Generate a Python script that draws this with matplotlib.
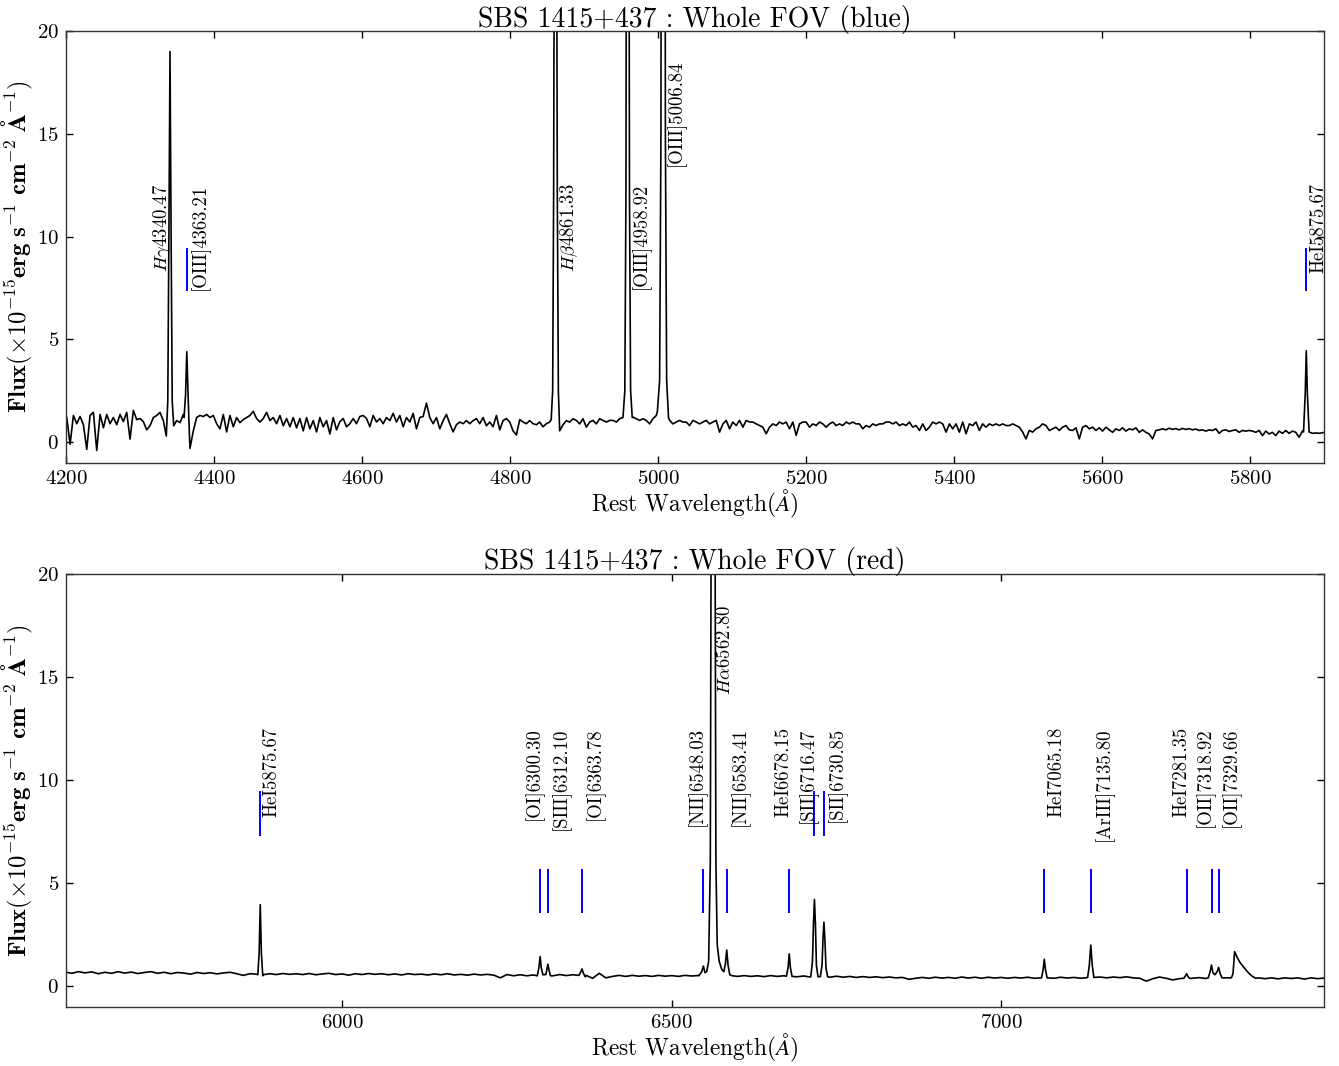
from __future__ import annotations

import matplotlib

matplotlib.use("Agg")
import matplotlib.pyplot as plt
import numpy as np

OUT = "out.png"
NO_MARK = np.nan

# ---- blue arm -------------------------------------------------------------
# continuum sampled on a regular 4.5 A grid starting at 4201 A
BLUE_START = 4201.0
BLUE_STEP = 4.5
BLUE_FLUX = [
    1.2, -0.1, 1.3, 0.9, 1.25, 0.85, -0.35, 1.3, 1.45, -0.4,
    1.35, 0.7, 1.35, 0.9, 1.2, 0.85, 1.35, 1.0, 1.45, 0.15,
    1.55, 1.1, 1.15, 1.0, 0.6, 0.8, 1.2, 1.3, 1.45, 1.05,
    0.4, 0.8, 0.6, 1.05, 0.95, 1.35, 1.2, -0.3, 0.55, 1.2,
    1.3, 1.25, 1.35, 1.2, 1.3, 0.9, 0.65, 1.35, 0.5, 1.3,
    0.75, 1.2, 0.95, 1.1, 1.2, 1.3, 1.5, 1.15, 0.98, 1.15,
    1.45, 1.05, 1.2, 0.9, 1.3, 0.8, 1.15, 0.75, 1.2, 0.7,
    1.15, 0.55, 1.2, 0.65, 1.05, 0.5, 1.2, 0.75, 1.05, 0.4,
    1.2, 0.6, 1.0, 1.15, 0.75, 0.9, 1.15, 0.9, 1.25, 1.3,
    1.15, 0.75, 1.3, 0.98, 1.15, 0.9, 1.2, 1.05, 1.4, 0.98,
    1.3, 0.75, 1.2, 0.98, 1.4, 0.65, 1.2, 1.25, 1.9, 1.2,
    0.9, 1.2, 0.65, 1.05, 1.35, 0.9, 0.5, 0.85, 0.98, 0.9,
    1.05, 0.9, 1.05, 1.15, 0.9, 1.2, 0.8, 0.98, 0.75, 1.3,
    0.6, 1.05, 1.15, 0.98, 0.55, 0.35, 1.1, 0.98, 0.9, 1.05,
    0.9, 0.85, 0.98, 0.75, 0.9, 0.98,
    1.2, 1.2, 0.6, 0.85, 1.05, 0.98, 1.14, 1.06, 0.89, 1.14,
    0.73, 0.98, 1.06, 0.89, 1.14, 1.06, 0.98, 1.06, 1.06, 0.98,
    1.14, 1.06, 1.2, 1.2, 1.22, 1.14, 1.06, 1.14, 1.06, 0.89,
    1.14, 1.3, 1.46, 1.5, 1.5, 1.06, 0.89, 0.98, 1.06, 0.98,
    0.98, 0.81, 1.06, 0.98, 0.89, 0.98, 1.06, 0.89, 0.98, 1.06,
    0.49, 0.89, 1.06, 0.65, 0.98, 0.81, 1.06, 0.73, 1.06, 0.98,
    0.98, 0.89, 0.81, 0.73, 0.41, 0.73, 0.89, 0.81, 0.98, 0.89,
    0.98, 0.65, 0.98, 0.33, 0.89, 0.98, 0.98, 0.73, 0.89, 0.81,
    0.98, 0.89, 0.73, 0.89, 0.98, 0.81, 0.89, 0.81, 0.98, 0.89,
    0.98, 0.89, 0.89, 0.65, 0.81, 0.73, 0.89, 0.81, 0.89, 0.89,
    0.98, 0.98, 0.89, 0.98, 0.81, 0.89, 0.81, 0.98, 0.73, 0.81,
    0.57, 0.89, 0.57, 0.73, 0.98, 0.89, 0.98, 0.89, 0.49, 0.89,
    0.65, 0.89, 0.49, 0.98, 0.41, 0.89, 0.81, 0.98, 0.57, 0.89,
    0.73, 0.89, 0.81, 0.89, 0.81, 0.89, 0.81, 0.81, 0.89, 0.81,
    0.73, 0.49, 0.16, 0.57, 0.49, 0.65, 0.73, 0.89, 0.81, 0.57,
    0.65, 0.73, 0.57, 0.73, 0.81, 0.6, 0.57, 0.7, 0.16, 0.73,
    0.81, 0.65, 0.73, 0.57, 0.7, 0.54, 0.73, 0.6, 0.48, 0.65,
    0.57, 0.7, 0.54, 0.65, 0.6, 0.7, 0.48, 0.6, 0.48, 0.4,
    0.16, 0.57, 0.6, 0.65, 0.6, 0.68, 0.62, 0.66, 0.6, 0.67,
    0.62, 0.66, 0.6, 0.64, 0.57, 0.6, 0.54, 0.6, 0.57, 0.65,
    0.43, 0.57, 0.6, 0.52, 0.57, 0.6, 0.48, 0.57, 0.54, 0.57,
    0.54, 0.48, 0.57, 0.32, 0.54, 0.4, 0.48, 0.32, 0.54, 0.43,
    0.57, 0.43, 0.54, 0.48, 0.24, 0.54, 0.54, 0.54, 0.43, 0.45,
    0.43, 0.46, 0.48,
]
# emission-line profiles, sampled finer than the continuum grid
BLUE_PROFILE_WAVE = [
    [4335.5, 4337.5, 4339.0, 4340.5, 4342.0, 4343.5, 4345.5],
    [4359.5, 4361.5, 4363.2, 4365.0, 4366.5],
    [4855.5, 4857.5, 4858.8, 4859.6, 4861.3, 4863.0, 4863.8, 4865.2, 4867.0],
    [4952.5, 4955.0, 4956.5, 4957.3, 4958.9, 4960.5, 4961.3, 4962.8, 4965.0],
    [4999.0, 5002.0, 5003.8, 5004.8, 5006.8, 5008.8, 5009.8, 5011.5, 5014.0],
    [5872.0, 5874.3, 5875.7, 5877.1, 5879.5],
]
BLUE_PROFILE_FLUX = [
    [0.3, 2.0, 10.0, 19.0, 10.0, 2.0, 0.8],
    [1.2, 2.3, 4.4, 2.2, 0.6],
    [1.1, 2.5, 12.0, 24.0, 60.0, 24.0, 12.0, 2.5, 0.55],
    [1.2, 2.5, 12.0, 30.0, 100.0, 30.0, 12.0, 2.5, 1.2],
    [1.5, 3.0, 15.0, 50.0, 300.0, 50.0, 15.0, 3.0, 1.2],
    [0.5, 2.4, 4.45, 2.4, 0.5],
]
BLUE_LABELS = [r"$H\gamma$4340.47", "[OIII]4363.21", r"$H\beta$4861.33",
               "[OIII]4958.92", "[OIII]5006.84", "HeI5875.67"]
BLUE_LABEL_WAVE = [4340.47, 4363.21, 4861.33, 4958.92, 5006.84, 5875.67]
BLUE_LABEL_SIDE = ["left", "right", "right", "right", "right", "right"]
BLUE_LABEL_TOP = [12.6, 12.6, 12.6, 12.6, 18.6, 12.6]
BLUE_MARK_LO = [NO_MARK, 7.35, NO_MARK, NO_MARK, NO_MARK, 7.35]
BLUE_MARK_HI = [NO_MARK, 9.45, NO_MARK, NO_MARK, NO_MARK, 9.45]

# ---- red arm --------------------------------------------------------------
RED_START = 5580.0
RED_STEP = 10.0
RED_FLUX = [
    0.68, 0.62, 0.70, 0.64, 0.69, 0.60, 0.67, 0.62, 0.70, 0.63,
    0.68, 0.61, 0.66, 0.70, 0.62, 0.67, 0.60, 0.66, 0.63, 0.58,
    0.66, 0.61, 0.65, 0.59, 0.64, 0.67, 0.60, 0.52, 0.60, 0.58,
    0.55, 0.60, 0.56, 0.61, 0.57, 0.60, 0.56, 0.61, 0.55, 0.59,
    0.62, 0.56, 0.59, 0.53, 0.60, 0.56, 0.61, 0.57, 0.60, 0.55,
    0.59, 0.54, 0.60, 0.56, 0.58, 0.54, 0.59, 0.55, 0.60, 0.54,
    0.57, 0.53, 0.58, 0.54, 0.57, 0.53, 0.40, 0.56, 0.50, 0.55,
    0.50, 0.54, 0.52, 0.52, 0.50, 0.56, 0.51, 0.55, 0.50, 0.52,
    0.38, 0.62, 0.40, 0.47, 0.52, 0.47, 0.52, 0.48, 0.51, 0.47,
    0.52, 0.48, 0.51, 0.47, 0.52, 0.49, 0.51, 0.55, 0.60, 0.60,
    0.55, 0.50, 0.47, 0.51, 0.47, 0.50, 0.46, 0.51, 0.47, 0.50,
    0.48, 0.45, 0.49, 0.44, 0.46, 0.46, 0.43, 0.48, 0.43, 0.47,
    0.42, 0.46, 0.42, 0.45, 0.41, 0.44, 0.40, 0.42, 0.33, 0.38,
    0.42, 0.38, 0.43, 0.39, 0.42, 0.38, 0.44, 0.39, 0.43, 0.38,
    0.43, 0.39, 0.42, 0.38, 0.42, 0.39, 0.43, 0.38, 0.40, 0.40,
    0.38, 0.43, 0.39, 0.42, 0.38, 0.41, 0.41, 0.44, 0.40, 0.44,
    0.41, 0.45, 0.40, 0.38, 0.24, 0.36, 0.44, 0.38, 0.30, 0.36,
    0.42, 0.38, 0.41, 0.37, 0.40, 0.40, 0.40, 0.40, 0.45, 0.45,
    0.48, 0.40, 0.36, 0.40, 0.35, 0.40, 0.37, 0.40, 0.34, 0.40,
    0.36, 0.39,
]
RED_PROFILE_WAVE = [
    [5872.0, 5874.0, 5875.7, 5877.4, 5879.5],
    [6296.0, 6298.5, 6300.3, 6302.0, 6304.5],
    [6309.0, 6310.8, 6312.1, 6313.6, 6316.0],
    [6359.0, 6361.5, 6363.8, 6366.0, 6369.0],
    [6541.0, 6545.5, 6548.0, 6550.5, 6553.0, 6556.0, 6558.5, 6560.0, 6562.8,
     6565.5, 6567.0, 6569.0, 6572.0, 6576.0, 6579.0, 6581.5, 6583.4, 6585.5,
     6588.0, 6592.0],
    [6674.0, 6676.5, 6678.2, 6680.0, 6682.5],
    [6711.0, 6713.5, 6715.0, 6716.5, 6718.0, 6719.5, 6722.0],
    [6725.5, 6728.0, 6729.5, 6730.9, 6732.3, 6734.0, 6736.5],
    [7061.0, 7063.5, 7065.2, 7067.0, 7069.5],
    [7131.0, 7133.5, 7135.8, 7138.0, 7140.5],
    [7277.0, 7279.0, 7281.3, 7283.5, 7286.0],
    [7314.0, 7316.8, 7318.9, 7321.0, 7324.0, 7327.5, 7329.7, 7332.0, 7335.0],
    [7349.0, 7351.5, 7354.0, 7357.0, 7362.0, 7367.0, 7372.0, 7377.0, 7382.0,
     7386.0],
]
RED_PROFILE_FLUX = [
    [0.55, 1.6, 3.95, 1.6, 0.5],
    [0.5, 0.9, 1.43, 0.9, 0.55],
    [0.56, 0.85, 1.06, 0.8, 0.5],
    [0.52, 0.65, 0.83, 0.62, 0.45],
    [0.5, 0.7, 0.97, 0.65, 0.7, 1.2, 6.0, 25.0, 150.0,
     25.0, 6.0, 2.0, 1.2, 0.8, 0.7, 1.1, 1.75, 1.0,
     0.55, 0.5],
    [0.48, 0.9, 1.56, 0.9, 0.47],
    [0.46, 1.2, 3.0, 4.2, 3.0, 1.0, 0.45],
    [0.46, 1.0, 2.3, 3.1, 2.3, 0.9, 0.45],
    [0.4, 0.8, 1.3, 0.8, 0.4],
    [0.42, 1.0, 1.99, 1.0, 0.42],
    [0.38, 0.48, 0.6, 0.45, 0.37],
    [0.4, 0.7, 1.02, 0.65, 0.55, 0.7, 0.91, 0.6, 0.4],
    [0.4, 0.6, 1.67, 1.45, 1.15, 0.95, 0.75, 0.58, 0.45, 0.38],
]
RED_LABELS = ["HeI5875.67", "[OI]6300.30", "[SIII]6312.10", "[OI]6363.78",
              "[NII]6548.03", r"$H\alpha$6562.80", "[NII]6583.41", "HeI6678.15",
              "[SII]6716.47", "[SII]6730.85", "HeI7065.18", "[ArIII]7135.80",
              "HeI7281.35", "[OII]7318.92", "[OII]7329.66"]
RED_LABEL_WAVE = [5875.67, 6300.30, 6312.10, 6363.78, 6548.03, 6562.80, 6583.41,
                  6678.15, 6716.47, 6730.85, 7065.18, 7135.80, 7281.35, 7318.92,
                  7329.66]
RED_LABEL_SIDE = ["right", "left", "right", "right", "left", "right", "right",
                  "left", "left", "right", "right", "right", "left", "left", "right"]
RED_LABEL_TOP = [12.55, 12.55, 12.55, 12.55, 12.55, 18.5, 12.55, 12.55, 12.55,
                 12.55, 12.55, 12.55, 12.55, 12.55, 12.55]
RED_MARK_LO = [7.3, 3.55, 3.55, 3.55, 3.55, NO_MARK, 3.55, 3.55, 7.3, 7.3,
               3.55, 3.55, 3.55, 3.55, 3.55]
RED_MARK_HI = [9.45, 5.7, 5.7, 5.7, 5.7, NO_MARK, 5.7, 5.7, 9.45, 9.45,
               5.7, 5.7, 5.7, 5.7, 5.7]


def build_spectrum(start, step, flux, prof_wave, prof_flux):
    """Merge the continuum grid with the finely sampled line profiles."""
    wave = start + step * np.arange(len(flux))
    flux = np.asarray(flux, dtype=float)
    keep = np.ones(len(wave), dtype=bool)
    for pw in prof_wave:
        keep &= ~((wave >= min(pw)) & (wave <= max(pw)))
    w = np.concatenate([wave[keep]] + [np.asarray(p, float) for p in prof_wave])
    f = np.concatenate([flux[keep]] + [np.asarray(p, float) for p in prof_flux])
    order = np.argsort(w)
    return w[order], f[order]


def draw_panel(ax, wave, flux, labels, lwave, sides, tops, lo, hi, xlim, xticks, title):
    ax.vlines(lwave, lo, hi, color="#0000ff", lw=1.4, zorder=1)
    ax.plot(wave, flux, color="black", lw=1.2, zorder=2)
    for name, wl, side, top in zip(labels, lwave, sides, tops):
        if side == "right":
            ax.annotate(name, xy=(wl, top), xytext=(2.0, 0), textcoords="offset points",
                        rotation=90, ha="left", va="top", fontsize=13.5)
        else:
            ax.annotate(name, xy=(wl, top), xytext=(2.5, 0), textcoords="offset points",
                        rotation=90, ha="right", va="top", fontsize=13.5)
    ax.set_xlim(*xlim)
    ax.set_ylim(-1, 20)
    ax.set_xticks(xticks)
    ax.set_yticks([0, 5, 10, 15, 20])
    ax.set_title(title, fontsize=20, pad=3)
    ax.set_xlabel(r"Rest Wavelength$(\AA)$", fontsize=16.8, labelpad=0)
    ax.set_ylabel(r"$\mathbf{Flux(\times 10^{-15}erg\ s^{-1}\ cm^{-2}\ \AA^{-1})}$",
                  fontsize=17.7)
    ax.yaxis.set_label_coords(-0.025, 0.5)
    ax.tick_params(direction="in", top=True, right=True, length=5, width=1.0,
                   labelsize=15, pad=5)
    for sp in ax.spines.values():
        sp.set_linewidth(1.0)
        sp.set_color("#333333")


def main() -> None:
    plt.rcParams.update(
        {
            "font.family": ["cmr10", "DejaVu Serif"],
            "mathtext.fontset": "cm",
            "axes.formatter.use_mathtext": True,
            "axes.unicode_minus": False,
        }
    )
    fig = plt.figure(figsize=(13.39, 10.66), dpi=100)
    ax_blue = fig.add_axes([0.0493, 0.5659, 0.9397, 0.4050])
    ax_red = fig.add_axes([0.0493, 0.0556, 0.9397, 0.4064])

    bw, bf = build_spectrum(BLUE_START, BLUE_STEP, BLUE_FLUX, BLUE_PROFILE_WAVE, BLUE_PROFILE_FLUX)
    rw, rf = build_spectrum(RED_START, RED_STEP, RED_FLUX, RED_PROFILE_WAVE, RED_PROFILE_FLUX)

    draw_panel(ax_blue, bw, bf, BLUE_LABELS, BLUE_LABEL_WAVE, BLUE_LABEL_SIDE, BLUE_LABEL_TOP,
               BLUE_MARK_LO, BLUE_MARK_HI, (4200, 5900), np.arange(4200, 5801, 200),
               "SBS 1415+437 : Whole FOV (blue)")
    draw_panel(ax_red, rw, rf, RED_LABELS, RED_LABEL_WAVE, RED_LABEL_SIDE, RED_LABEL_TOP,
               RED_MARK_LO, RED_MARK_HI, (5581, 7490), [6000, 6500, 7000],
               "SBS 1415+437 : Whole FOV (red)")

    fig.savefig(OUT, dpi=100)
    plt.close(fig)


if __name__ == "__main__":
    main()
